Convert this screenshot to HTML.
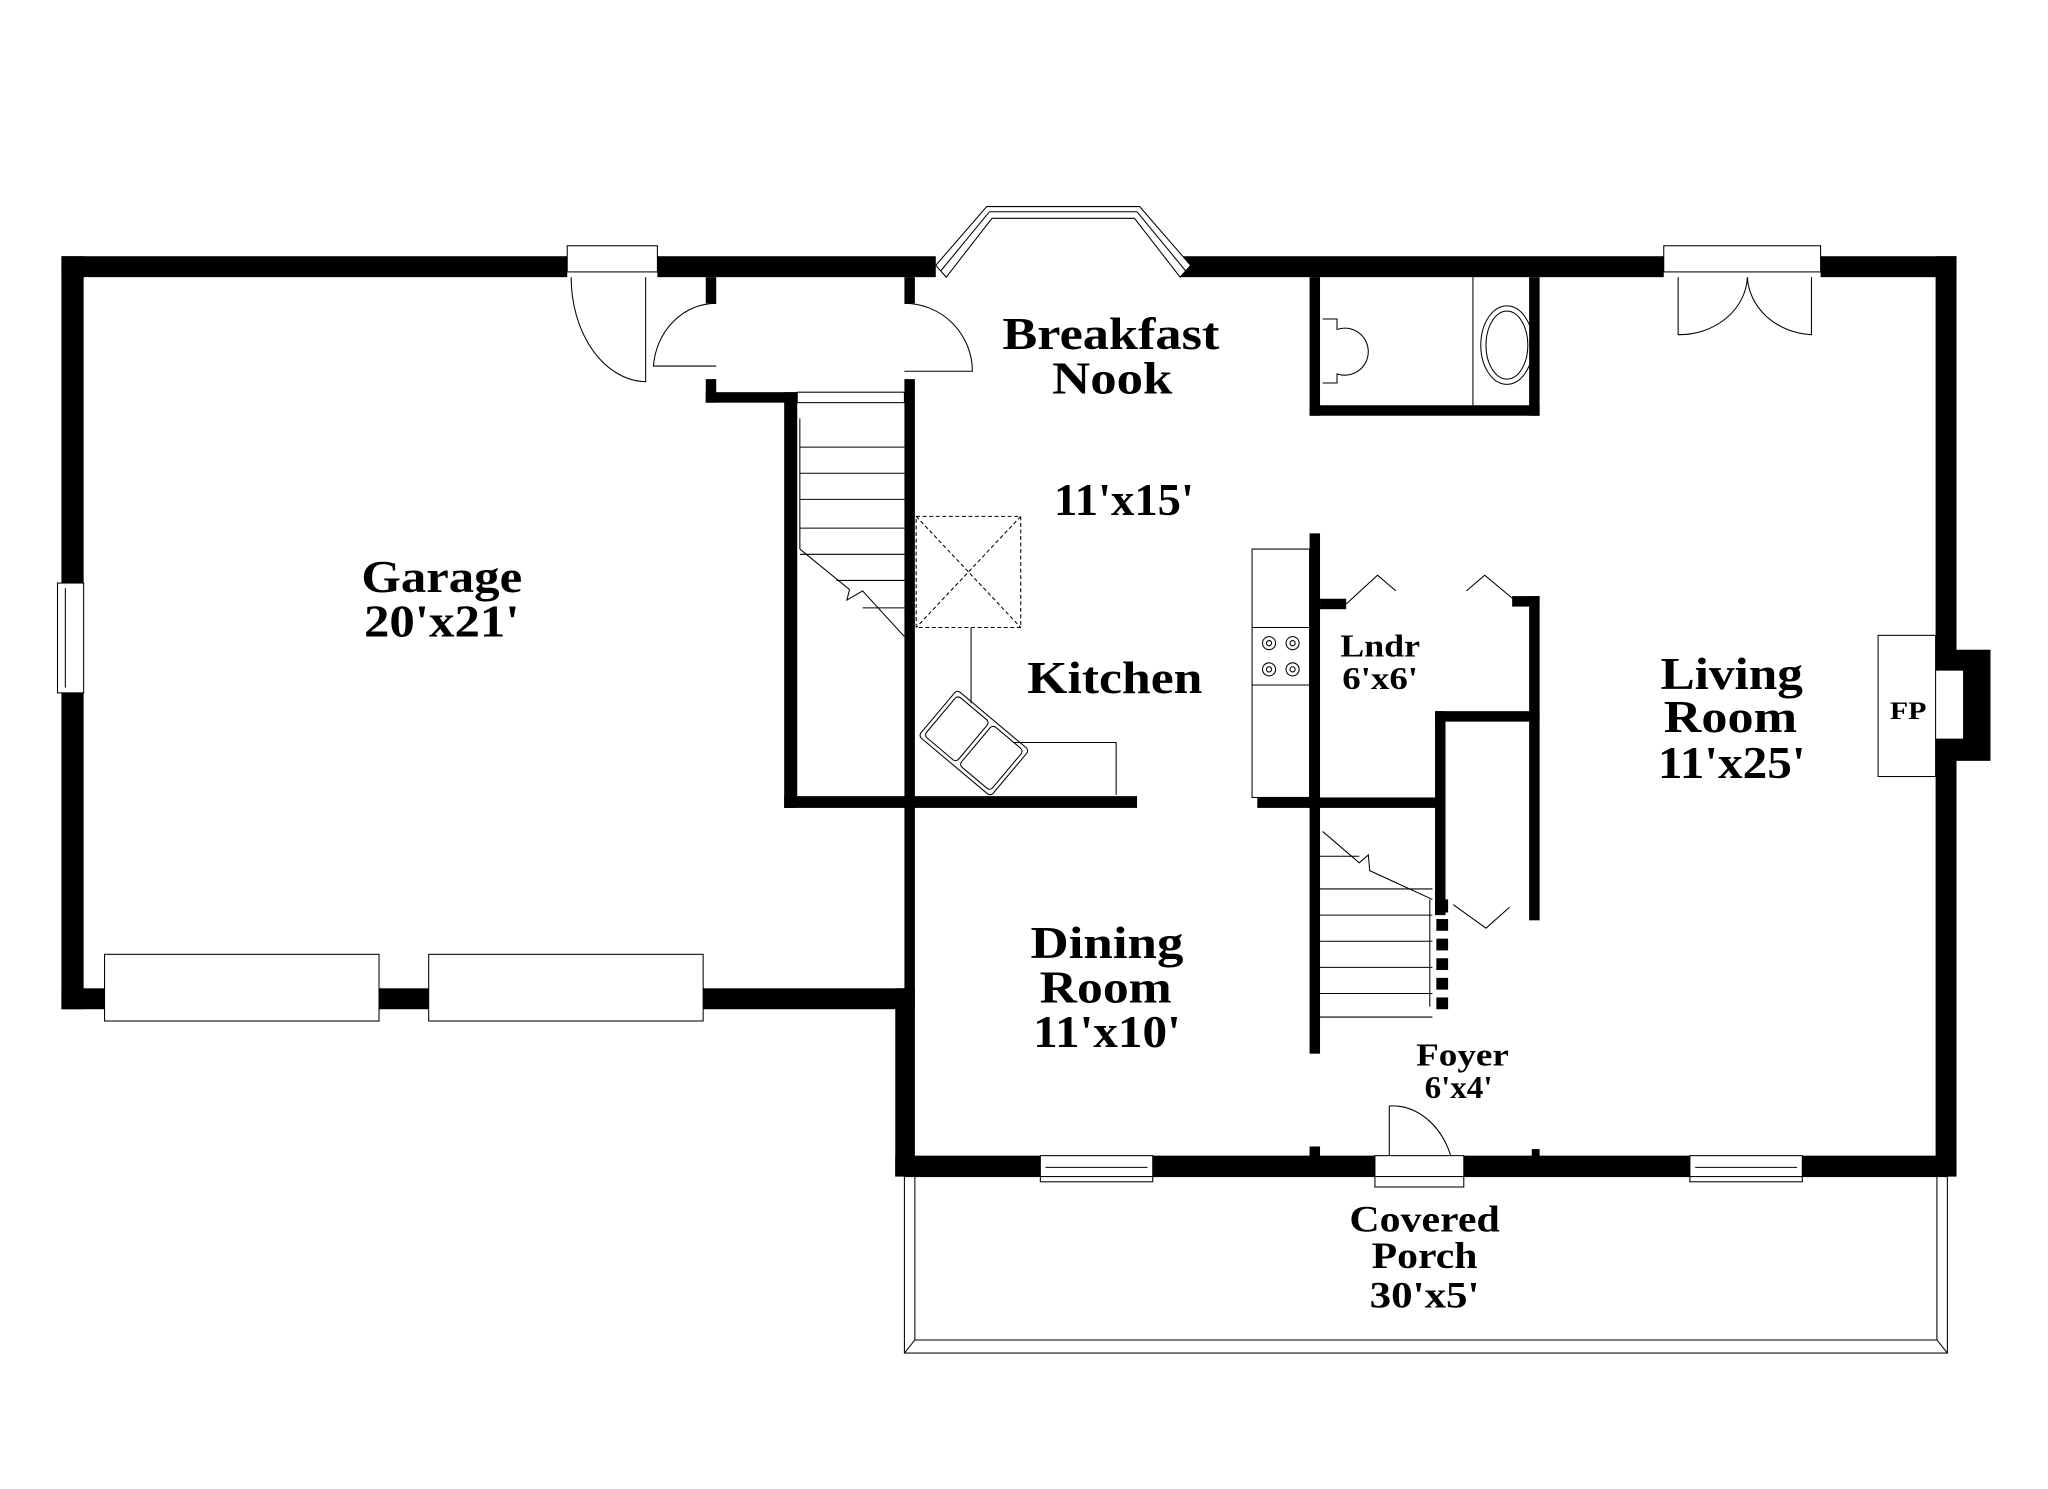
<!DOCTYPE html>
<html><head><meta charset="utf-8"><style>
html,body{margin:0;padding:0;background:#fff;}
svg{display:block;}
text{font-family:"Liberation Serif",serif;font-weight:bold;fill:#000;text-anchor:middle;}
</style></head><body>
<svg width="2048" height="1489" viewBox="0 0 1567 1139" preserveAspectRatio="none" xmlns="http://www.w3.org/2000/svg">
<rect width="1567" height="1139" fill="#fff"/>
<g fill="#000">
<rect x="47" y="196" width="387" height="16"/>
<rect x="503" y="196" width="213" height="16"/>
<rect x="47" y="196" width="17" height="250"/>
<rect x="47" y="530" width="17" height="242"/>
<rect x="47" y="756" width="33" height="16"/>
<rect x="290" y="756" width="38" height="16"/>
<rect x="538" y="756" width="162" height="16"/>
<rect x="685" y="756" width="15" height="144"/>
<rect x="692" y="212" width="8" height="20"/>
<rect x="692" y="290" width="8" height="470"/>
<rect x="540" y="212" width="8" height="20"/>
<rect x="540" y="290" width="8" height="18"/>
<rect x="540" y="300" width="70" height="8"/>
<rect x="600" y="300" width="10" height="318"/>
<rect x="600" y="609" width="270" height="9"/>
<rect x="685" y="884" width="111" height="16"/>
<rect x="882" y="884" width="170" height="16"/>
<rect x="1120" y="884" width="173" height="16"/>
<rect x="1379" y="884" width="118" height="16"/>
<rect x="1481" y="196" width="16" height="704"/>
<rect x="1481" y="497" width="42" height="85"/>
<rect fill="#fff" x="1481" y="513" width="21" height="52"/>
<rect x="903" y="196" width="370" height="16"/>
<rect x="1393" y="196" width="104" height="16"/>
<rect x="1002" y="212" width="8" height="106"/>
<rect x="1002" y="310" width="176" height="8"/>
<rect x="1170" y="212" width="8" height="106"/>
<rect x="1002" y="408" width="8" height="398"/>
<rect x="1010" y="458" width="20" height="8"/>
<rect x="1157" y="456" width="21" height="8"/>
<rect x="1170" y="456" width="8" height="248"/>
<rect x="1098" y="544" width="8" height="156"/>
<rect x="1098" y="544" width="80" height="8"/>
<rect x="962" y="610" width="144" height="8"/>
<rect x="1002" y="877" width="8" height="8"/>
<rect x="1172" y="879" width="6" height="6"/>
<rect x="1098" y="688" width="10" height="10"/>
<rect x="1099" y="703" width="9" height="9"/><rect x="1099" y="718" width="9" height="9"/><rect x="1099" y="733" width="9" height="9"/><rect x="1099" y="748" width="9" height="9"/><rect x="1099" y="763" width="9" height="9"/>
</g>
<g fill="none" stroke="#000" stroke-width="0.8">
<rect x="434" y="188" width="69" height="20" fill="#fff"/>
<rect x="44" y="446" width="20" height="84" fill="#fff"/><line x1="50" y1="450" x2="50" y2="526"/>
<rect x="80" y="730" width="210" height="51" fill="#fff"/>
<rect x="328" y="730" width="210" height="51" fill="#fff"/>
<rect x="796" y="884" width="86" height="20" fill="#fff"/><line x1="800" y1="893" x2="878" y2="893"/>
<rect x="1293" y="884" width="86" height="20" fill="#fff"/><line x1="1297" y1="893" x2="1375" y2="893"/>
<rect x="1273" y="188" width="120" height="20" fill="#fff"/>
<rect x="1052" y="884" width="68" height="24" fill="#fff"/>
<polygon points="716,203 755,158 872,158 911,203 903,212 868,167 759,167 724,212" fill="#fff"/>
<line x1="720" y1="207" x2="757" y2="162"/><line x1="757" y1="162" x2="870" y2="162"/><line x1="870" y1="162" x2="907" y2="207"/>
<path d="M494 212 V292 A58 80 0 0 1 437 212"/>
<path d="M548 232 A48 52 0 0 0 500 280 H548"/>
<path d="M692 232 A52 52 0 0 1 744 284 H692"/>
<path d="M1284 212 V256 A52 46 0 0 0 1337 212 A52 46 0 0 0 1386 256 V212"/>
<path d="M1063 884 V846 A48 60 0 0 1 1110 884"/>
<polyline points="1030,462 1054,440 1068,452"/><polyline points="1160,460 1136,440 1122,452"/>
<polyline points="1112,692 1137,710 1155,694"/>
<rect x="610" y="300" width="82" height="8"/>
<line x1="612" y1="320" x2="612" y2="420"/>
<line x1="612" y1="342" x2="692" y2="342"/><line x1="612" y1="362" x2="692" y2="362"/><line x1="612" y1="382" x2="692" y2="382"/><line x1="612" y1="404" x2="692" y2="404"/><line x1="612" y1="424" x2="692" y2="424"/><line x1="640" y1="444" x2="692" y2="444"/><line x1="660" y1="465" x2="692" y2="465"/>
<polyline points="612,420 650,451 648,459 660,452 692,487"/>
<line x1="1010" y1="655" x2="1040" y2="655"/><line x1="1010" y1="680" x2="1096" y2="680"/><line x1="1010" y1="700" x2="1096" y2="700"/><line x1="1010" y1="720" x2="1096" y2="720"/><line x1="1010" y1="740" x2="1096" y2="740"/><line x1="1010" y1="760" x2="1096" y2="760"/><line x1="1010" y1="778" x2="1096" y2="778"/>
<polyline points="1012,636 1040,660 1047,654 1048,666 1096,688"/>
<line x1="1094" y1="688" x2="1094" y2="770"/>
<line x1="1127" y1="212" x2="1127" y2="310"/>
<path d="M1012 244 H1023 V252 A18 18 0 1 1 1023 286 V293 H1012"/>
<ellipse cx="1153" cy="264" rx="20" ry="30"/><ellipse cx="1153" cy="264" rx="16" ry="26"/>
<rect x="958" y="420" width="44" height="190"/>
<line x1="958" y1="480" x2="1002" y2="480"/><line x1="958" y1="524" x2="1002" y2="524"/>
<circle cx="971" cy="492" r="5"/><circle cx="971" cy="492" r="2"/><circle cx="989" cy="492" r="5"/><circle cx="989" cy="492" r="2"/><circle cx="971" cy="512" r="5"/><circle cx="971" cy="512" r="2"/><circle cx="989" cy="512" r="5"/><circle cx="989" cy="512" r="2"/>
<rect x="701" y="395" width="80" height="85" stroke-dasharray="3,2"/>
<line x1="701" y1="395" x2="781" y2="480" stroke-dasharray="3,2"/><line x1="781" y1="395" x2="701" y2="480" stroke-dasharray="3,2"/>
<line x1="743" y1="480" x2="743" y2="538"/>
<polyline points="775,568 854,568 854,608"/>
<g transform="rotate(40 745 567)"><rect x="710" y="545" width="72" height="46" rx="3"/><rect x="713" y="548" width="32" height="40" rx="3"/><rect x="748" y="548" width="31" height="40" rx="3"/></g>
<rect x="1437" y="486" width="44" height="108"/>
<rect x="692" y="900" width="798" height="135"/>
<polyline points="700,900 700,1025 1482,1025 1482,900"/>
<line x1="692" y1="1035" x2="700" y2="1025"/><line x1="1490" y1="1035" x2="1482" y2="1025"/>
</g>
<g font-size="35">
<text x="338" y="453" textLength="123" lengthAdjust="spacingAndGlyphs">Garage</text><text x="338" y="487" textLength="119" lengthAdjust="spacingAndGlyphs">20'x21'</text>
<text x="850" y="267" textLength="166" lengthAdjust="spacingAndGlyphs">Breakfast</text><text x="851" y="301" textLength="92" lengthAdjust="spacingAndGlyphs">Nook</text>
<text x="860" y="394" textLength="107" lengthAdjust="spacingAndGlyphs">11'x15'</text>
<text x="853" y="530" textLength="134" lengthAdjust="spacingAndGlyphs">Kitchen</text>
<text x="1325" y="527" textLength="109" lengthAdjust="spacingAndGlyphs">Living</text><text x="1324" y="560" textLength="102" lengthAdjust="spacingAndGlyphs">Room</text><text x="1325" y="595" textLength="113" lengthAdjust="spacingAndGlyphs">11'x25'</text>
<text x="847" y="733" textLength="117" lengthAdjust="spacingAndGlyphs">Dining</text><text x="846" y="767" textLength="101" lengthAdjust="spacingAndGlyphs">Room</text><text x="847" y="801" textLength="113" lengthAdjust="spacingAndGlyphs">11'x10'</text>
</g>
<g font-size="24">
<text x="1056" y="502" textLength="61" lengthAdjust="spacingAndGlyphs">Lndr</text><text x="1056" y="527" textLength="58" lengthAdjust="spacingAndGlyphs">6'x6'</text>
<text x="1119" y="815" textLength="71" lengthAdjust="spacingAndGlyphs">Foyer</text><text x="1116" y="840" textLength="52" lengthAdjust="spacingAndGlyphs">6'x4'</text>
</g>
<g font-size="28">
<text x="1090" y="942" textLength="115" lengthAdjust="spacingAndGlyphs">Covered</text><text x="1090" y="970" textLength="81" lengthAdjust="spacingAndGlyphs">Porch</text><text x="1090" y="1000" textLength="84" lengthAdjust="spacingAndGlyphs">30'x5'</text>
</g>
<text x="1460" y="550" font-size="19" textLength="28" lengthAdjust="spacingAndGlyphs">FP</text>
</svg>
</body></html>
